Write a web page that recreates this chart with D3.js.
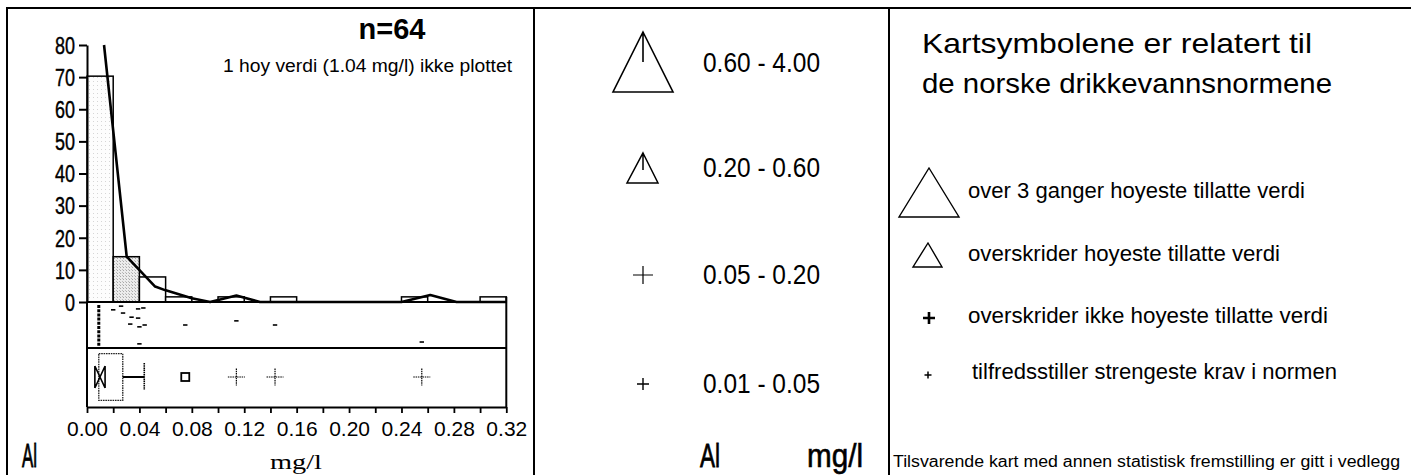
<!DOCTYPE html>
<html><head><meta charset="utf-8">
<script src="https://cdn.jsdelivr.net/npm/d3@7"></script>
<style>body{margin:0;background:#fff}svg{display:block}</style>
</head><body>
<svg id="c" width="1411" height="475"></svg>
<script>
// ---------- data ----------
const binStarts = [0, 0.02, 0.04, 0.06, 0.10, 0.14, 0.24, 0.30];
const binPct    = [70.3, 14.1, 7.8, 1.6, 1.6, 1.6, 1.6, 1.6];
const binWidth  = 0.02;
const curveX = [0.013, 0.0303, 0.052, 0.0595, 0.080, 0.094, 0.114, 0.132, 0.24, 0.262, 0.282, 0.32];
const curveY = [80, 14.1, 4.8, 3.7, 1.15, 0, 2.0, 0, 0, 2.2, 0, 0];
const rugX      = [0.020, 0.026, 0.0275, 0.034, 0.039, 0.039, 0.043, 0.033, 0.040, 0.044, 0.040, 0.075, 0.114, 0.1435, 0.2555];
const rugJitter = [0.17, 0.09, 0.24, 0.33, 0.35, 0.15, 0.13, 0.48, 0.54, 0.50, 0.91, 0.50, 0.41, 0.50, 0.87];
const lowValue = 0.009;
const boxQ1 = 0.009, boxMedian = 0.0095, boxQ3 = 0.0273, notchLo = 0.006, notchHi = 0.0138, whiskerHi = 0.0437;
const outsideX = [0.075];
const farOutX  = [0.114, 0.1435, 0.2555];
const yTicks = [0, 10, 20, 30, 40, 50, 60, 70, 80];
const xTicks = [0, 0.02, 0.04, 0.06, 0.08, 0.10, 0.12, 0.14, 0.16, 0.18, 0.20, 0.22, 0.24, 0.26, 0.28, 0.30, 0.32];
const xTickLabels = ["0.00", "0.04", "0.08", "0.12", "0.16", "0.20", "0.24", "0.28", "0.32"];
const nText = "n=64";
const noteText = "1 hoy verdi (1.04 mg/l) ikke plottet";
const element = "Al";
const unit = "mg/l";
const legendRanges = ["0.60 - 4.00", "0.20 - 0.60", "0.05 - 0.20", "0.01 - 0.05"];
const titleLines = ["Kartsymbolene er relatert til", "de norske drikkevannsnormene"];
const normTexts = ["over 3 ganger hoyeste tillatte verdi", "overskrider hoyeste tillatte verdi",
                   "overskrider ikke hoyeste tillatte verdi", "tilfredsstiller strengeste krav i normen"];
const footText = "Tilsvarende kart med annen statistisk fremstilling er gitt i vedlegg";

// ---------- drawing ----------
const svg = d3.select("#c");
const SANS = "'Liberation Sans', Arial, Helvetica, sans-serif";
const SERIF = "'Liberation Serif', 'Times New Roman', serif";

function txt(x, y, s, size, len, opts = {}) {
  const t = svg.append("text").attr("x", x).attr("y", y).text(s)
    .attr("font-family", opts.family || SANS).attr("font-size", size)
    .attr("font-weight", opts.weight || "normal").attr("fill", "#000")
    .attr("text-anchor", opts.anchor || "start");
  if (len) t.attr("textLength", len).attr("lengthAdjust", "spacingAndGlyphs");
  if (opts.bold) t.attr("stroke", "#000").attr("stroke-width", opts.bold);
  return t;
}

// defs: stipple patterns
const defs = svg.append("defs");
const p1 = defs.append("pattern").attr("id", "st1").attr("width", 4).attr("height", 4).attr("patternUnits", "userSpaceOnUse");
p1.append("rect").attr("width", 4).attr("height", 4).attr("fill", "#fdfdfd");
p1.append("rect").attr("x", 1).attr("y", 1).attr("width", 1).attr("height", 1).attr("fill", "#d6d6d6");
const p2 = defs.append("pattern").attr("id", "st2").attr("width", 3).attr("height", 3).attr("patternUnits", "userSpaceOnUse");
p2.append("rect").attr("width", 3).attr("height", 3).attr("fill", "#ececec");
p2.append("rect").attr("x", 0).attr("y", 0).attr("width", 1).attr("height", 1).attr("fill", "#a8a8a8");
p2.append("rect").attr("x", 2).attr("y", 2).attr("width", 1).attr("height", 1).attr("fill", "#bdbdbd");

// frame
const frame = svg.append("g").attr("stroke", "#000").attr("stroke-width", 2).attr("fill", "none");
frame.append("path").attr("d", "M6,8H1411");
frame.append("path").attr("d", "M7,8V475");
frame.append("path").attr("d", "M534,8V475");
frame.append("path").attr("d", "M889,8V475");

// scales
const x = d3.scaleLinear().domain([0, 0.32]).range([87, 506.3]);
const y = d3.scaleLinear().domain([0, 80]).range([302, 45]);
const stripTop = 302, stripBot = 348, boxBot = 407;

// histogram bars
const fills = ["url(#st1)", "url(#st2)"];
svg.append("g").selectAll("rect").data(binStarts).join("rect")
  .attr("x", d => x(d)).attr("width", d => x(d + binWidth) - x(d))
  .attr("y", (d, i) => y(binPct[i])).attr("height", (d, i) => y(0) - y(binPct[i]))
  .attr("fill", (d, i) => fills[i] || "#fff").attr("stroke", "#000").attr("stroke-width", 1.5);

// density curve
const line = d3.line().x(d => x(d[0])).y(d => y(d[1]));
svg.append("path").datum(curveX.map((v, i) => [v, curveY[i]])).attr("d", line)
  .attr("fill", "none").attr("stroke", "#000").attr("stroke-width", 2.6).attr("stroke-linejoin", "round");

// y axis
const yAx = svg.append("g").attr("transform", "translate(87,0)")
  .call(d3.axisLeft(y).tickValues(yTicks).tickSize(8).tickSizeOuter(0).tickPadding(4));
yAx.select(".domain").attr("stroke-width", 2);
yAx.selectAll(".tick line").attr("stroke-width", 2);
yAx.selectAll("text").attr("font-family", SANS).attr("font-size", 23).attr("fill", "#000")
  .attr("stroke", "#000").attr("stroke-width", 0.4)
  .attr("dy", "0.36em")
  .each(function(d) { d3.select(this).attr("textLength", String(d).length * 10).attr("lengthAdjust", "spacingAndGlyphs"); });

// base, strip, box panel lines
const pl = svg.append("g").attr("stroke", "#000").attr("fill", "none");
pl.append("line").attr("x1", x(0)).attr("x2", x(0.32)).attr("y1", stripTop).attr("y2", stripTop).attr("stroke-width", 2.2);
pl.append("line").attr("x1", x(0)).attr("x2", x(0.32)).attr("y1", stripBot).attr("y2", stripBot).attr("stroke-width", 2);
pl.append("line").attr("x1", x(0)).attr("x2", x(0)).attr("y1", stripTop).attr("y2", boxBot).attr("stroke-width", 2);
pl.append("line").attr("x1", x(0.32)).attr("x2", x(0.32)).attr("y1", y(binPct[binPct.length - 1])).attr("y2", boxBot).attr("stroke-width", 2);

// strip plot
svg.append("line").attr("x1", x(lowValue)).attr("x2", x(lowValue)).attr("y1", stripTop + 3).attr("y2", stripBot - 2)
  .attr("stroke", "#000").attr("stroke-width", 3).attr("stroke-dasharray", "3,1.2");
svg.append("g").selectAll("line").data(rugX).join("line")
  .attr("x1", d => x(d) - 2.2).attr("x2", d => x(d) + 2.2)
  .attr("y1", (d, i) => stripTop + rugJitter[i] * (stripBot - stripTop))
  .attr("y2", (d, i) => stripTop + rugJitter[i] * (stripBot - stripTop))
  .attr("stroke", "#000").attr("stroke-width", 1.6);

// box plot
const bc = 377, bh = 23.3;
const bg = svg.append("g").attr("fill", "none").attr("stroke", "#000");
bg.append("rect").attr("x", x(boxQ1)).attr("y", bc - bh).attr("width", x(boxQ3) - x(boxQ1)).attr("height", 2 * bh)
  .attr("stroke-width", 1.3).attr("stroke-dasharray", "1.6,0.8").attr("stroke", "#222");
bg.append("path").attr("stroke-width", 1.6)
  .attr("d", `M${x(notchLo)},${bc - 11}V${bc + 11}M${x(notchHi)},${bc - 11}V${bc + 11}` +
             `M${x(notchLo)},${bc - 11}L${x(notchHi)},${bc + 11}M${x(notchHi)},${bc - 11}L${x(notchLo)},${bc + 11}`);
bg.append("line").attr("x1", x(boxQ3)).attr("x2", x(whiskerHi)).attr("y1", bc).attr("y2", bc).attr("stroke-width", 2);
bg.append("line").attr("x1", x(whiskerHi)).attr("x2", x(whiskerHi)).attr("y1", bc - 14).attr("y2", bc + 13)
  .attr("stroke-width", 1.6).attr("stroke-dasharray", "1.5,0.7");
bg.selectAll(".out").data(outsideX).join("rect").attr("class", "out")
  .attr("x", d => x(d) - 4).attr("y", bc - 4).attr("width", 8).attr("height", 8).attr("stroke-width", 1.8);
bg.selectAll(".far").data(farOutX).join("path").attr("class", "far")
  .attr("d", d => `M${x(d) - 8.5},${bc}H${x(d) + 8.5}M${x(d)},${bc - 8.5}V${bc + 8.5}`)
  .attr("stroke-width", 1.2).attr("stroke-dasharray", "1.5,0.8");

// x axis
const xAx = svg.append("g").attr("transform", `translate(0,${boxBot})`)
  .call(d3.axisBottom(x).tickValues(xTicks).tickSize(6).tickSizeOuter(0).tickPadding(8)
    .tickFormat((d, i) => i % 2 === 0 ? xTickLabels[i / 2] : ""));
xAx.select(".domain").attr("stroke-width", 2);
xAx.selectAll(".tick line").attr("stroke-width", 1.8);
xAx.selectAll("text").attr("font-family", SANS).attr("font-size", 21).attr("fill", "#000");

// left panel texts
txt(392, 39, nText, 29, null, { weight: "bold", anchor: "middle" });
txt(223, 72, noteText, 18, 289);
txt(22, 467, element, 34, 15, { bold: 0.9 });
txt(296, 469, unit, 21, 52, { family: SERIF, anchor: "middle" });

// middle panel legend
const mg = svg.append("g").attr("fill", "none").attr("stroke", "#000");
mg.append("path").attr("d", "M643,32L673,92L613,92Z M643,32V62").attr("stroke-width", 1.6);
mg.append("path").attr("d", "M643,153L658,183L627,183Z M643,153V170").attr("stroke-width", 1.5);
mg.append("path").attr("d", "M633,275H653M643,266V284").attr("stroke-width", 1.2);
mg.append("path").attr("d", "M637,384H649M643,378V390").attr("stroke-width", 1.4);
const legY = [72, 177, 284, 393];
legendRanges.forEach((s, i) => txt(703, legY[i], s, 28, 117));
txt(700, 467, element, 34, 20, { bold: 0.8 });
txt(807, 467, unit, 34, 56, { bold: 0.6 });

// right panel
txt(922, 53, titleLines[0], 28, 390);
txt(922, 93, titleLines[1], 28, 410);
const rg = svg.append("g").attr("fill", "none").attr("stroke", "#000");
rg.append("path").attr("d", "M929,168L959,217L899,217Z").attr("stroke-width", 1.4);
rg.append("path").attr("d", "M928,243L942,267L913,267Z").attr("stroke-width", 1.4);
rg.append("path").attr("d", "M923,318H935M929,312V324").attr("stroke-width", 2.6);
rg.append("path").attr("d", "M924.5,375H931.5M928,371.5V378.5").attr("stroke-width", 1.5);
const normY = [198, 261, 323, 379], normX = [968, 968, 968, 972], normL = [337, 312, 360, 365];
normTexts.forEach((s, i) => txt(normX[i], normY[i], s, 22, normL[i]));
txt(893, 467, footText, 16, 507);
</script>
</body></html>
